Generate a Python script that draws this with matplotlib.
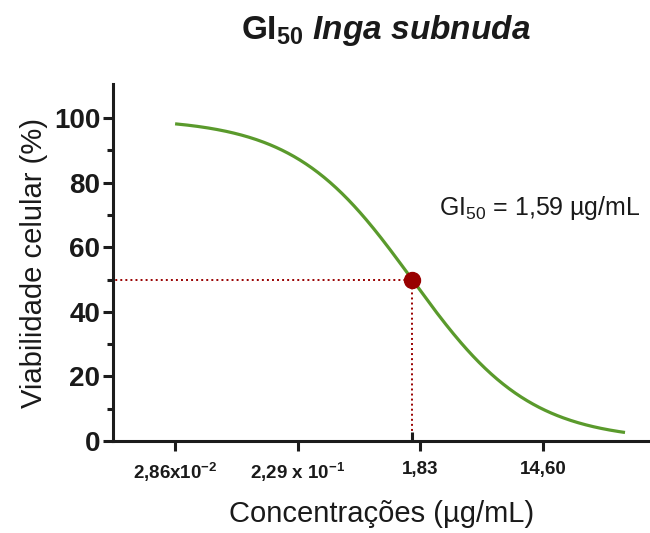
import numpy as np
import matplotlib
matplotlib.use('Agg')
import matplotlib.pyplot as plt

plt.rcParams['font.family'] = ['Liberation Sans', 'DejaVu Sans']
plt.rcParams['mathtext.fontset'] = 'custom'
plt.rcParams['mathtext.rm'] = 'Liberation Sans'
plt.rcParams['mathtext.bf'] = 'Liberation Sans:bold'
plt.rcParams['mathtext.it'] = 'Liberation Sans:italic'
plt.rcParams['axes.unicode_minus'] = False

# Tick concentrations (ug/mL) and their labels
tick_conc = [0.0286, 0.229, 1.83, 14.60]
tick_labels = [r'2,86x10$^{\mathbf{-2}}$', r'2,29 x 10$^{\mathbf{-1}}$', '1,83', '14,60']

# Dose-response fit (top, bottom, GI50, hill slope) and curve span
fit_top = 100.0
fit_bottom = 0.0
gi50 = 1.59
hill_slope = 1.0
curve_start = 0.0286
curve_end = 58.6

green = '#5a9a2c'
red = '#990000'
dark = '#1c1c1c'

log_x = np.linspace(np.log10(curve_start), np.log10(curve_end), 300)
curve_x = 10 ** log_x
curve_y = fit_bottom + (fit_top - fit_bottom) / (1 + 10 ** ((log_x - np.log10(gi50)) * hill_slope))

fig = plt.figure(figsize=(6.5, 5.33), dpi=100)
ax = fig.add_axes([0.174, 0.1726, 0.826, 0.6694])

ax.plot(curve_x, curve_y, color=green, lw=2.3, solid_capstyle='butt', zorder=3)

# dotted guides to the GI50 point
ax.plot([0.001, gi50], [50, 50], color=red, lw=1.4, ls=(0, (1, 1.6)), zorder=2)
ax.plot([gi50, gi50], [0, 50], color=red, lw=1.4, ls=(0, (1, 1.6)), zorder=2)
ax.plot([gi50, gi50], [0, 2.8], color=dark, lw=2.2, solid_capstyle='butt', zorder=2)
ax.plot([gi50], [50], 'o', color=red, ms=11.5, zorder=4)

ax.text(439, 533 - 208, r'GI$_{\mathrm{50}}$ = 1,59 µg/mL', fontsize=18, color='#1a1a1a',
        transform=None, va='center', ha='left')

ax.set_xscale('log')
ax.set_xlim(0.01, 89.5)
ax.set_ylim(0, 110.5)
ax.set_xticks(tick_conc)
ax.set_xticklabels(tick_labels, fontsize=13.5, fontweight='bold')
ax.xaxis.set_minor_locator(matplotlib.ticker.NullLocator())
ax.set_yticks([0, 20, 40, 60, 80, 100])
ax.set_yticks([10, 30, 50, 70, 90], minor=True)
ax.set_yticklabels(['0', '20', '40', '60', '80', '100'], fontsize=20, fontweight='bold')

for s in ['top', 'right']:
    ax.spines[s].set_visible(False)
for s in ['left', 'bottom']:
    ax.spines[s].set_linewidth(2.2)
    ax.spines[s].set_color(dark)

ax.tick_params(axis='y', which='major', length=7.2, width=2.2, color=dark, pad=2, labelcolor='#1a1a1a')
ax.tick_params(axis='y', which='minor', length=4.3, width=2.2, color=dark)
ax.tick_params(axis='x', which='major', length=7.5, width=2.2, color=dark, pad=7, labelcolor='#1a1a1a')

ax.set_ylabel('Viabilidade celular (%)', fontsize=21, color='#1a1a1a')
ax.yaxis.set_label_coords(-0.122, 0.5)
ax.set_xlabel('Concentrações (µg/mL)', fontsize=21, color='#1a1a1a')
ax.xaxis.set_label_coords(0.5, -0.165)

fig.text(0.594, 0.942, r'$\mathbf{GI_{50}}$ Inga subnuda', fontsize=24, fontweight='bold',
         fontstyle='italic', ha='center', va='center', color='#1a1a1a')

fig.savefig('out.png', dpi=100)
